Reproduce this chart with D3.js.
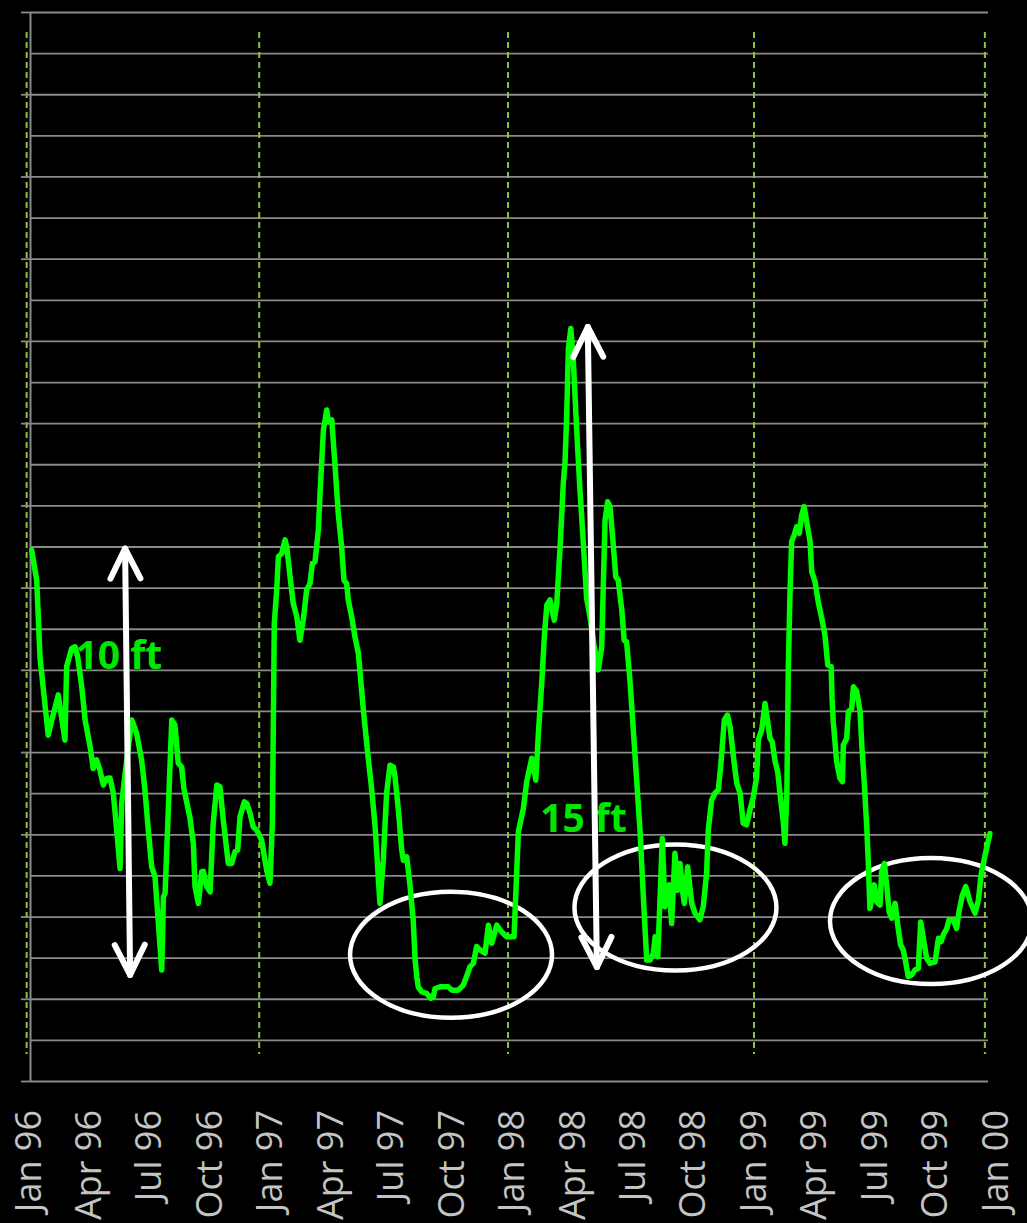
<!DOCTYPE html>
<html>
<head>
<meta charset="utf-8">
<script src="https://cdn.jsdelivr.net/npm/d3@7"></script>
<style>
  html, body { margin: 0; padding: 0; background: #000; }
  svg { display: block; }
</style>
</head>
<body>
<svg id="chart" width="1027" height="1223"></svg>
<script>
// quarter labels along the bottom
const tickLabels = ["Jan 96", "Apr 96", "Jul 96", "Oct 96", "Jan 97", "Apr 97", "Jul 97", "Oct 97",
  "Jan 98", "Apr 98", "Jul 98", "Oct 98", "Jan 99", "Apr 99", "Jul 99", "Oct 99", "Jan 00"];

// level in ft (above bottom gridline) vs decimal year
const level1996 = [[1996.007,12.91],[1996.028,12.18],[1996.042,10.28],[1996.076,8.41],[1996.091,8.78],[1996.118,9.39],[1996.146,8.29],[1996.153,10.08],[1996.174,10.52],[1996.188,10.56],[1996.199,10.32],[1996.216,9.59],[1996.230,8.78],[1996.251,8.13],[1996.264,7.60],[1996.278,7.81],[1996.292,7.56],[1996.306,7.20],[1996.320,7.36],[1996.334,7.37],[1996.348,7.00],[1996.362,6.10],[1996.376,5.17],[1996.383,6.76],[1996.397,7.48],[1996.425,8.78],[1996.445,8.46],[1996.466,7.81],[1996.480,7.08],[1996.494,6.10],[1996.508,5.21],[1996.522,4.97],[1996.543,3.27],[1996.550,2.70],[1996.557,4.48],[1996.564,4.57],[1996.577,6.51],[1996.592,8.78],[1996.605,8.66],[1996.619,7.73],[1996.633,7.64],[1996.643,7.10],[1996.668,6.40],[1996.682,5.78],[1996.689,4.73],[1996.703,4.32],[1996.717,5.09],[1996.724,5.10],[1996.738,4.73],[1996.752,4.60],[1996.765,6.27],[1996.780,7.20],[1996.793,7.16],[1996.807,6.35],[1996.828,5.29],[1996.842,5.29],[1996.856,5.58],[1996.867,5.62],[1996.877,6.43],[1996.895,6.79],[1996.905,6.75],[1996.919,6.51],[1996.932,6.18],[1996.947,6.10],[1996.967,5.86],[1996.988,5.13]];
const level1997 = [[1997.002,4.81],[1997.012,6.27],[1997.016,8.70],[1997.020,11.13],[1997.030,11.94],[1997.037,12.75],[1997.051,12.83],[1997.065,13.16],[1997.072,13.00],[1997.086,12.26],[1997.099,11.62],[1997.114,11.29],[1997.127,10.72],[1997.141,11.21],[1997.155,11.94],[1997.169,12.10],[1997.179,12.59],[1997.190,12.63],[1997.204,13.40],[1997.211,14.29],[1997.225,15.83],[1997.239,16.32],[1997.246,16.03],[1997.260,16.08],[1997.273,15.02],[1997.287,13.81],[1997.301,13.00],[1997.311,12.18],[1997.322,12.10],[1997.329,11.70],[1997.343,11.29],[1997.357,10.80],[1997.371,10.40],[1997.392,9.02],[1997.413,7.81],[1997.427,7.08],[1997.441,6.18],[1997.448,5.54],[1997.461,4.32],[1997.475,5.37],[1997.489,7.00],[1997.503,7.68],[1997.517,7.64],[1997.524,7.40],[1997.538,6.59],[1997.552,5.62],[1997.559,5.37],[1997.573,5.45],[1997.587,4.73],[1997.600,3.92],[1997.608,2.94],[1997.615,2.54],[1997.621,2.29],[1997.635,2.17],[1997.656,2.13],[1997.674,2.01],[1997.684,2.05],[1997.691,2.25],[1997.712,2.29],[1997.747,2.29],[1997.761,2.21],[1997.788,2.21],[1997.809,2.33],[1997.823,2.54],[1997.837,2.78],[1997.851,2.86],[1997.865,3.27],[1997.879,3.19],[1997.900,3.11],[1997.914,3.79],[1997.928,3.35],[1997.949,3.79],[1997.969,3.63],[1997.990,3.51]];
const level1998 = [[1998.021,3.51],[1998.039,6.06],[1998.060,6.63],[1998.074,7.28],[1998.095,7.85],[1998.112,7.32],[1998.123,8.49],[1998.137,9.71],[1998.148,10.85],[1998.158,11.58],[1998.171,11.70],[1998.189,11.21],[1998.199,11.58],[1998.213,12.95],[1998.227,14.57],[1998.234,15.06],[1998.241,16.20],[1998.248,17.82],[1998.258,18.30],[1998.268,17.58],[1998.283,15.79],[1998.296,14.41],[1998.310,13.12],[1998.324,11.74],[1998.338,11.29],[1998.355,10.60],[1998.373,10.00],[1998.387,10.56],[1998.401,13.64],[1998.412,14.09],[1998.422,13.97],[1998.436,13.00],[1998.446,12.26],[1998.456,12.18],[1998.471,11.45],[1998.481,10.72],[1998.491,10.68],[1998.505,9.75],[1998.519,8.54],[1998.533,7.32],[1998.547,6.10],[1998.561,4.48],[1998.575,2.94],[1998.589,2.94],[1998.603,3.11],[1998.610,3.51],[1998.621,3.02],[1998.631,4.48],[1998.640,5.90],[1998.651,4.24],[1998.658,4.73],[1998.668,4.77],[1998.679,3.83],[1998.693,5.54],[1998.704,4.64],[1998.714,5.29],[1998.724,4.64],[1998.732,4.32],[1998.746,5.21],[1998.763,4.32],[1998.777,4.08],[1998.797,3.92],[1998.811,4.24],[1998.825,5.05],[1998.832,6.10],[1998.846,6.83],[1998.860,7.00],[1998.874,7.08],[1998.885,7.73],[1998.899,8.78],[1998.912,8.90],[1998.923,8.62],[1998.937,7.89],[1998.951,7.24],[1998.965,7.00],[1998.978,6.27],[1998.992,6.23]];
const level1999 = [[1999.006,6.59],[1999.020,6.90],[1999.034,7.40],[1999.041,8.30],[1999.055,8.54],[1999.069,9.18],[1999.090,8.33],[1999.099,8.25],[1999.111,7.77],[1999.122,7.52],[1999.132,6.96],[1999.145,6.31],[1999.152,5.78],[1999.160,6.96],[1999.166,9.95],[1999.173,11.82],[1999.180,13.12],[1999.191,13.28],[1999.201,13.48],[1999.212,13.32],[1999.222,13.76],[1999.232,13.97],[1999.243,13.60],[1999.257,13.12],[1999.264,12.39],[1999.278,12.14],[1999.291,11.66],[1999.306,11.25],[1999.319,10.85],[1999.331,10.12],[1999.345,10.08],[1999.349,9.30],[1999.354,8.74],[1999.368,7.77],[1999.382,7.36],[1999.392,7.28],[1999.396,8.17],[1999.410,8.33],[1999.417,8.98],[1999.431,9.06],[1999.438,9.59],[1999.452,9.47],[1999.466,8.98],[1999.473,8.17],[1999.484,7.20],[1999.494,6.15],[1999.500,5.33],[1999.507,4.20],[1999.517,4.52],[1999.525,4.77],[1999.535,4.36],[1999.549,4.28],[1999.556,5.09],[1999.567,5.29],[1999.577,4.77],[1999.587,4.12],[1999.598,3.96],[1999.612,4.32],[1999.625,3.71],[1999.635,3.31],[1999.646,3.19],[1999.656,2.90],[1999.667,2.54],[1999.681,2.58],[1999.695,2.70],[1999.709,2.74],[1999.719,3.87],[1999.730,3.47],[1999.744,2.98],[1999.758,2.86],[1999.779,2.90],[1999.793,3.47],[1999.804,3.39],[1999.813,3.55],[1999.828,3.71],[1999.837,3.92],[1999.855,3.92],[1999.869,3.71],[1999.879,4.12],[1999.893,4.52],[1999.907,4.73],[1999.925,4.36],[1999.946,4.08],[1999.960,4.40],[1999.971,5.01],[1999.988,5.50],[2000.008,6.02]];

// dashed year markers
const yearMarks = [1995.986, 1996.957, 1997.996, 1999.023, 1999.987];

// annotations (data units)
const arrows = [
  { top: [1996.397, 12.95], bottom: [1996.418, 2.58] },
  { top: [1998.329, 18.34], bottom: [1998.367, 2.77] }
];
const spanLabels = [
  { text: "10 ft", x: 1996.190, y: 10.02 },
  { text: "15 ft", x: 1998.130, y: 6.06 }
];
const circles = [
  { cx: 1997.758, cy: 3.07 },
  { cx: 1998.695, cy: 4.22 },
  { cx: 1999.762, cy: 3.89 }
];

const svg = d3.select('#chart');

const x = d3.scaleLinear().domain([1996, 2000]).range([30, 988]);
const y = d3.scaleLinear().domain([0, 26]).range([1081, 12]);
const xLab = d3.scalePoint().domain(tickLabels).range([28, 995]);

const gridColor = '#8a8a8a';

// gridlines every ft
const grid = svg.append('g')
  .attr('transform', 'translate(30,0)')
  .call(d3.axisLeft(y).tickValues(d3.range(0, 27)).tickSize(-958).tickFormat(''));
grid.select('.domain').remove();
grid.selectAll('line').attr('stroke', gridColor).attr('stroke-width', 1.8);

// dashed year markers
svg.append('g').selectAll('line')
  .data(yearMarks)
  .join('line')
  .attr('x1', d => x(d)).attr('x2', d => x(d))
  .attr('y1', 32).attr('y2', 1054)
  .attr('stroke', '#8cc43c')
  .attr('stroke-width', 2)
  .attr('stroke-dasharray', '6,4');

// axis with major ticks every 2 ft, labels hidden
const yAxis = svg.append('g')
  .attr('transform', 'translate(30,0)')
  .call(d3.axisLeft(y).tickValues(d3.range(0, 27, 2)).tickSize(9).tickSizeOuter(0).tickFormat(''));
yAxis.select('.domain').attr('stroke', gridColor).attr('stroke-width', 2);
yAxis.selectAll('line').attr('stroke', gridColor).attr('stroke-width', 1.8);

// quarter labels
svg.append('g').selectAll('text')
  .data(tickLabels)
  .join('text')
  .attr('transform', d => `translate(${xLab(d)},1110) rotate(-90)`)
  .attr('dy', '0.35em')
  .attr('text-anchor', 'end')
  .attr('font-family', '"Open Sans", sans-serif')
  .attr('font-size', 36)
  .attr('fill', '#c4c4c4')
  .text(d => d);

// circles round the lows
svg.append('g').selectAll('ellipse')
  .data(circles)
  .join('ellipse')
  .attr('cx', d => x(d.cx))
  .attr('cy', d => y(d.cy))
  .attr('rx', 101)
  .attr('ry', 63)
  .attr('fill', 'none')
  .attr('stroke', '#fff')
  .attr('stroke-width', 4.5);

// level line
const series = level1996.concat(level1997, level1998, level1999);
const line = d3.line().x(d => x(d[0])).y(d => y(d[1]));
svg.append('path')
  .datum(series)
  .attr('d', line)
  .attr('fill', 'none')
  .attr('stroke', '#00ff00')
  .attr('stroke-width', 5.5)
  .attr('stroke-linejoin', 'round')
  .attr('stroke-linecap', 'round');

// span labels
svg.append('g').selectAll('text')
  .data(spanLabels)
  .join('text')
  .attr('x', d => x(d.x))
  .attr('y', d => y(d.y))
  .attr('font-family', '"Open Sans", sans-serif')
  .attr('font-weight', 'bold')
  .attr('font-size', 39)
  .attr('fill', '#00e600')
  .text(d => d.text);

// double-headed arrows
function headPoints(tip, from) {
  const dx = tip[0] - from[0], dy = tip[1] - from[1];
  const len = Math.hypot(dx, dy);
  const ux = dx / len, uy = dy / len;
  const bx = tip[0] - ux * 30, by = tip[1] - uy * 30;
  return [[bx - uy * 15, by + ux * 15], tip, [bx + uy * 15, by - ux * 15]];
}
const arrowG = svg.append('g')
  .attr('stroke', '#fff')
  .attr('stroke-width', 6)
  .attr('stroke-linecap', 'round')
  .attr('stroke-linejoin', 'round')
  .attr('fill', 'none');
arrows.forEach(a => {
  const p0 = [x(a.top[0]), y(a.top[1])];
  const p1 = [x(a.bottom[0]), y(a.bottom[1])];
  arrowG.append('line')
    .attr('x1', p0[0]).attr('y1', p0[1])
    .attr('x2', p1[0]).attr('y2', p1[1]);
  arrowG.append('path').attr('d', d3.line()(headPoints(p0, p1)));
  arrowG.append('path').attr('d', d3.line()(headPoints(p1, p0)));
});
</script>
</body>
</html>
